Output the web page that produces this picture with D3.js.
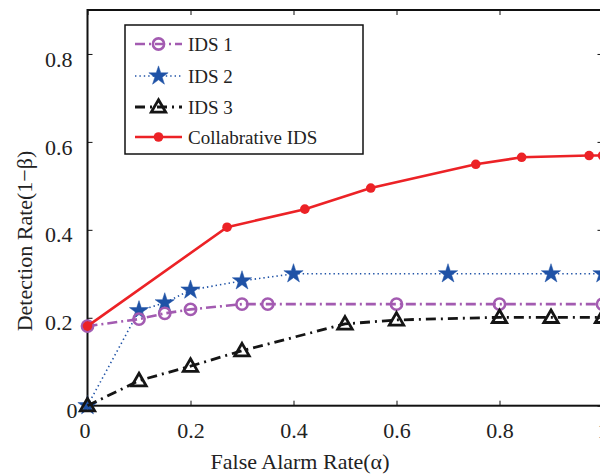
<!DOCTYPE html>
<html>
<head>
<meta charset="utf-8">
<script src="https://cdn.jsdelivr.net/npm/d3@7"></script>
<style>
  html, body { margin: 0; padding: 0; background: #fff; }
  svg, svg text { font-family: "Liberation Serif", "Times New Roman", serif !important; }
  svg { display: block; }
</style>
</head>
<body>
<svg id="chart" width="600" height="475"></svg>
<script>
// ---- Data ----
const ids1X = [0, 0.1, 0.15, 0.2, 0.3, 0.35, 0.6, 0.8, 1.0];
const ids1Y = [0.181, 0.197, 0.21, 0.219, 0.231, 0.231, 0.231, 0.231, 0.231];

const ids2X = [0, 0.1, 0.15, 0.2, 0.3, 0.4, 0.7, 0.9, 1.0];
const ids2Y = [0, 0.216, 0.234, 0.263, 0.284, 0.3, 0.3, 0.3, 0.3];

const ids3X = [0, 0.1, 0.2, 0.3, 0.5, 0.6, 0.8, 0.9, 1.0];
const ids3Y = [0, 0.057, 0.09, 0.125, 0.186, 0.195, 0.201, 0.201, 0.201];

const collabX = [0, 0.271, 0.422, 0.55, 0.754, 0.843, 0.974, 1.0];
const collabY = [0.181, 0.406, 0.447, 0.495, 0.549, 0.565, 0.569, 0.569];

const seriesNames = ["IDS 1", "IDS 2", "IDS 3", "Collabrative IDS"];
const xTicks = [0, 0.2, 0.4, 0.6, 0.8, 1];
const yTicks = [0, 0.2, 0.4, 0.6, 0.8];
const xTitle = "False Alarm Rate(\u03B1)";
const yTitle = "Detection Rate(1\u2212\u03B2)";

// ---- Layout ----
const svg = d3.select("#chart");
const pLeft = 87.5, pRight = 602.5, pTop = 10, pBottom = 405.7;
const x = d3.scaleLinear().domain([0, 1]).range([pLeft, pRight]);
const y = d3.scaleLinear().domain([0, 0.9]).range([pBottom, pTop]);

const series = [
  { name: seriesNames[0], xs: ids1X, ys: ids1Y, color: "#a35bb1", width: 2.6, dash: "10,4,2,4", marker: "circleOpen" },
  { name: seriesNames[1], xs: ids2X, ys: ids2Y, color: "#1f52a6", width: 1.6, dash: "1.4,3", marker: "star" },
  { name: seriesNames[2], xs: ids3X, ys: ids3Y, color: "#151515", width: 2.8, dash: "10,5,2,5", marker: "triangle" },
  { name: seriesNames[3], xs: collabX, ys: collabY, color: "#ec2226", width: 2.6, dash: null, marker: "dot" }
];

const serif = "'Liberation Serif', 'Times New Roman', serif";

// ---- Axes ----
const axisColor = "#111";
const fmt = d => String(+d.toFixed(1));
const gx = svg.append("g").attr("transform", `translate(0,${pBottom})`)
  .call(d3.axisBottom(x).tickValues(xTicks).tickSize(-5).tickPadding(0).tickFormat(fmt));
gx.attr("font-family", null).attr("font-size", null);
gx.select(".domain").remove();
gx.selectAll(".tick line").attr("stroke", axisColor).attr("stroke-width", 1);
gx.selectAll(".tick text").attr("y", 32).attr("dy", null)
  .style("font-size", "22px").style("font-family", serif).attr("fill", "#222")
  .attr("dx", d => d === 0 ? -3 : 0);

const gy = svg.append("g").attr("transform", `translate(${pLeft},0)`)
  .call(d3.axisLeft(y).tickValues(yTicks).tickSize(-5).tickPadding(0).tickFormat(fmt));
gy.attr("font-family", null).attr("font-size", null);
gy.select(".domain").remove();
gy.selectAll(".tick line").attr("stroke", axisColor).attr("stroke-width", 1);
gy.selectAll(".tick text")
  .attr("x", d => d === 0 ? -10 : -15).attr("dy", "0.55em")
  .style("font-size", "22px").style("font-family", serif).attr("fill", "#222");

// top / right ticks
const gt = svg.append("g").attr("transform", `translate(0,${pTop})`)
  .call(d3.axisTop(x).tickValues(xTicks).tickSize(-5).tickFormat(""));
gt.select(".domain").remove();
gt.selectAll(".tick line").attr("stroke", axisColor);
const gr = svg.append("g").attr("transform", `translate(${pRight},0)`)
  .call(d3.axisRight(y).tickValues(yTicks).tickSize(-5).tickFormat(""));
gr.select(".domain").remove();
gr.selectAll(".tick line").attr("stroke", axisColor);

// Frame
svg.append("rect").attr("x", pLeft).attr("y", pTop)
  .attr("width", pRight - pLeft).attr("height", pBottom - pTop)
  .attr("fill", "none").attr("stroke", axisColor).attr("stroke-width", 2);

// Titles
svg.append("text").attr("x", (pLeft + pRight) / 2 - 45).attr("y", 469)
  .attr("text-anchor", "middle").style("font-size", "22px").style("font-family", serif).attr("fill", "#222")
  .text(xTitle);
svg.append("text").attr("transform", "translate(32,241) rotate(-90)")
  .attr("text-anchor", "middle").style("font-size", "22px").style("font-family", serif).attr("fill", "#222")
  .text(yTitle);

// ---- Markers ----
const starPath = d3.symbol().type(d3.symbolStar).size(115)();
const triPath = d3.symbol().type(d3.symbolTriangle).size(90)();

function drawMarker(g, kind, color, cx, cy) {
  if (kind === "circleOpen") {
    g.append("circle").attr("cx", cx).attr("cy", cy).attr("r", 5.6)
      .attr("fill", "none").attr("stroke", color).attr("stroke-width", 2.6);
  } else if (kind === "star") {
    g.append("path").attr("d", starPath).attr("transform", `translate(${cx},${cy})`)
      .attr("fill", color).attr("stroke", color).attr("stroke-width", 0.5);
  } else if (kind === "triangle") {
    g.append("path").attr("d", triPath).attr("transform", `translate(${cx},${cy + 1})`)
      .attr("fill", "none").attr("stroke", color).attr("stroke-width", 2.8)
      .attr("stroke-linejoin", "miter");
  } else if (kind === "dot") {
    g.append("circle").attr("cx", cx).attr("cy", cy).attr("r", 4.8)
      .attr("fill", color);
  }
}

// ---- Series ----
const plot = svg.append("g");
const line = d3.line().x(d => x(d[0])).y(d => y(d[1]));
const drawOrder = [1, 0, 2, 3];
drawOrder.forEach(i => {
  const s = series[i];
  const pts = s.xs.map((v, k) => [v, s.ys[k]]);
  const g = plot.append("g");
  g.append("path").datum(pts).attr("d", line)
    .attr("fill", "none").attr("stroke", s.color).attr("stroke-width", s.width)
    .attr("stroke-dasharray", s.dash);
  pts.forEach(p => drawMarker(g, s.marker, s.color, x(p[0]), y(p[1])));
});

// ---- Legend ----
const lg = svg.append("g");
lg.append("rect").attr("x", 125).attr("y", 25).attr("width", 238).attr("height", 129)
  .attr("fill", "#fff").attr("stroke", axisColor).attr("stroke-width", 1.5);
const rowY = [44, 76, 107, 137];
series.forEach((s, i) => {
  const yy = rowY[i];
  lg.append("line").attr("x1", 135).attr("x2", 182).attr("y1", yy).attr("y2", yy)
    .attr("stroke", s.color).attr("stroke-width", s.width)
    .attr("stroke-dasharray", s.dash);
  drawMarker(lg, s.marker, s.color, 158.5, yy);
  lg.append("text").attr("x", 188).attr("y", yy + 6.5)
    .style("font-size", "19px").style("font-family", serif).attr("fill", "#222").text(s.name);
});
</script>
</body>
</html>
